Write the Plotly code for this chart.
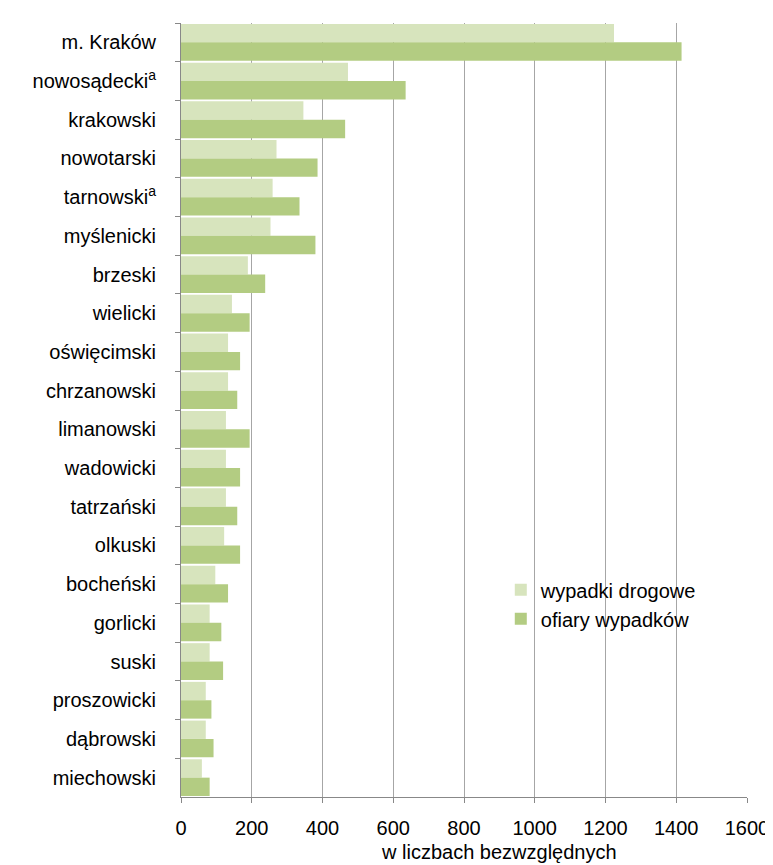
import plotly.graph_objects as go

categories = ["m. Kraków", "nowosądecki<sup>a</sup>", "krakowski", "nowotarski",
              "tarnowski<sup>a</sup>", "myślenicki", "brzeski", "wielicki",
              "oświęcimski", "chrzanowski", "limanowski", "wadowicki",
              "tatrzański", "olkuski", "bocheński", "gorlicki", "suski",
              "proszowicki", "dąbrowski", "miechowski"]
wypadki = [1224, 472, 346, 270, 259, 253, 189, 144, 133, 133, 127, 127,
           127, 122, 97, 81, 81, 70, 70, 59]
ofiary = [1415, 635, 464, 386, 335, 380, 238, 194, 167, 159, 194, 167,
          159, 167, 133, 114, 119, 86, 92, 81]
x_ticks = [0, 200, 400, 600, 800, 1000, 1200, 1400, 1600]

FONT = "Liberation Sans, Arial, sans-serif"
LIGHT = "#D7E4BD"
DARK = "#B3CC82"

fig = go.Figure()
fig.add_trace(go.Bar(y=categories, x=wypadki, orientation="h",
                     name="wypadki drogowe", marker=dict(color=LIGHT, line_width=0)))
fig.add_trace(go.Bar(y=categories, x=ofiary, orientation="h",
                     name="ofiary wypadków", marker=dict(color=DARK, line_width=0)))

fig.update_layout(
    width=773, height=865,
    margin=dict(l=173, r=24, t=15, b=76),
    paper_bgcolor="white", plot_bgcolor="white",
    barmode="group", bargap=0.05, bargroupgap=0,
    font=dict(family=FONT, size=20, color="#000000"),
    showlegend=True,
    legend=dict(x=0.565, y=0.293, xanchor="left", yanchor="top",
                traceorder="normal", bgcolor="rgba(0,0,0,0)",
                font=dict(size=20), itemwidth=30),
    xaxis=dict(range=[0, 1600], tickvals=x_ticks, showgrid=True,
               gridcolor="#A6A6A6", gridwidth=1, zeroline=False,
               showline=True, linecolor="#888888", linewidth=1,
               ticks="outside", ticklen=5, tickcolor="#888888",
               ticklabelstandoff=8, tickfont=dict(size=20)),
    yaxis=dict(autorange="reversed", showgrid=False, zeroline=False,
               showline=True, linecolor="#888888", linewidth=1,
               ticks="outside", ticklen=5, tickcolor="#888888",
               tickson="boundaries", ticklabelstandoff=20,
               tickfont=dict(size=20)),
    annotations=[dict(text="w liczbach bezwzględnych", xref="paper", yref="paper",
                      x=0.561, y=-0.071, xanchor="center", yanchor="middle",
                      showarrow=False, font=dict(size=20))],
)

fig.write_html("out.html")
